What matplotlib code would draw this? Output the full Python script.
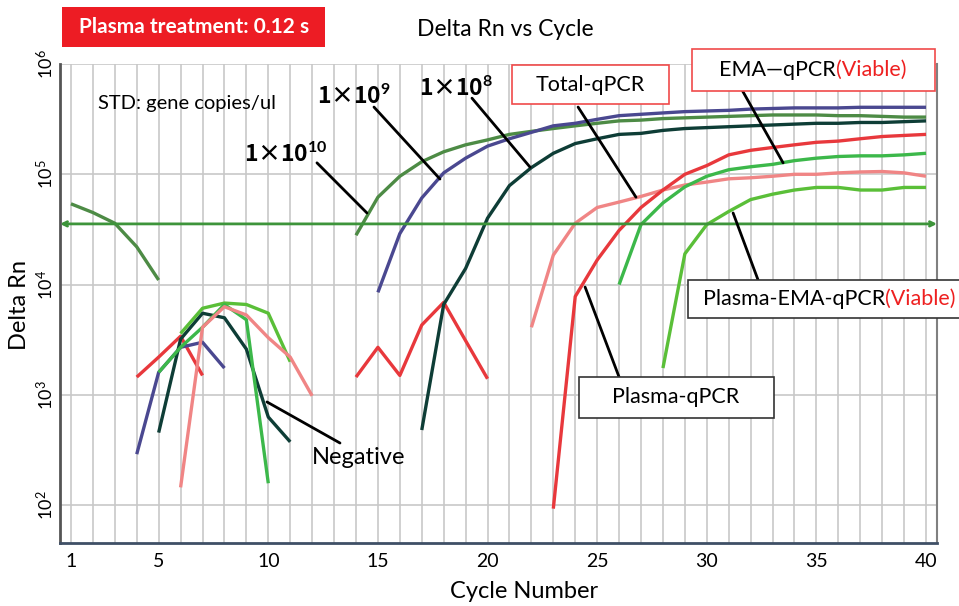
import numpy as np
import matplotlib
matplotlib.use('Agg')
import matplotlib.pyplot as plt
from matplotlib.patches import Rectangle
from matplotlib.ticker import FixedLocator, NullLocator

plt.rcParams['font.family'] = ['Lato', 'DejaVu Sans']
plt.rcParams['mathtext.fontset'] = 'custom'
plt.rcParams['mathtext.rm'] = 'Lato'
plt.rcParams['mathtext.bf'] = 'Lato:bold'
plt.rcParams['mathtext.it'] = 'Lato:italic'

# ---- amplification curves (cycle, Delta Rn) ----
cyc_1e10_early = [1, 2, 3, 4, 5]
rn_1e10_early = [5.4e4, 4.5e4, 3.6e4, 2.2e4, 1.1e4]

cyc_1e10 = list(range(14, 41))
rn_1e10 = [2.8e4, 6.2e4, 9.6e4, 1.3e5, 1.6e5, 1.85e5, 2.05e5, 2.3e5, 2.45e5,
           2.6e5, 2.75e5, 2.9e5, 3.05e5, 3.1e5, 3.2e5, 3.25e5, 3.3e5, 3.35e5,
           3.4e5, 3.45e5, 3.45e5, 3.45e5, 3.4e5, 3.4e5, 3.35e5, 3.3e5, 3.3e5]

cyc_1e9 = list(range(15, 41))
rn_1e9 = [8.5e3, 2.9e4, 6.1e4, 1.03e5, 1.4e5, 1.8e5, 2.1e5, 2.4e5, 2.75e5,
          2.9e5, 3.15e5, 3.4e5, 3.5e5, 3.6e5, 3.7e5, 3.75e5, 3.8e5, 3.9e5,
          3.95e5, 4.0e5, 4.0e5, 4.0e5, 4.05e5, 4.05e5, 4.05e5, 4.05e5]

cyc_1e8 = list(range(17, 41))
rn_1e8 = [480, 6.6e3, 1.4e4, 4.0e4, 7.9e4, 1.15e5, 1.55e5, 1.9e5, 2.1e5,
          2.3e5, 2.35e5, 2.5e5, 2.6e5, 2.65e5, 2.7e5, 2.75e5, 2.8e5, 2.85e5,
          2.9e5, 2.9e5, 2.95e5, 2.95e5, 3.0e5, 3.05e5]

cyc_total = list(range(22, 41))
rn_total = [4.1e3, 1.85e4, 3.6e4, 5.0e4, 5.6e4, 6.3e4, 7.2e4, 8.0e4, 8.5e4,
            9.1e4, 9.3e4, 9.6e4, 1.0e5, 1.0e5, 1.03e5, 1.05e5, 1.06e5, 1.03e5,
            9.6e4]

cyc_plasma = list(range(23, 41))
rn_plasma = [93, 7.8e3, 1.67e4, 3.1e4, 5.0e4, 7.2e4, 1.0e5, 1.2e5, 1.5e5,
             1.65e5, 1.75e5, 1.85e5, 1.95e5, 2.0e5, 2.1e5, 2.2e5, 2.25e5, 2.3e5]

cyc_ema = list(range(26, 41))
rn_ema = [1.0e4, 3.5e4, 5.5e4, 7.7e4, 9.6e4, 1.1e5, 1.17e5, 1.23e5, 1.33e5,
          1.4e5, 1.45e5, 1.47e5, 1.47e5, 1.5e5, 1.55e5]

cyc_pema = list(range(28, 41))
rn_pema = [1.75e3, 1.9e4, 3.5e4, 4.6e4, 5.9e4, 6.6e4, 7.2e4, 7.6e4, 7.6e4,
           7.2e4, 7.2e4, 7.6e4, 7.6e4]

# negative controls
cyc_neg_red_a = [4, 5, 6, 7]
rn_neg_red_a = [1.45e3, 2.2e3, 3.4e3, 1.5e3]
cyc_neg_purple = [4, 5, 6, 7, 8]
rn_neg_purple = [290, 1.6e3, 2.7e3, 3.0e3, 1.75e3]
cyc_neg_teal = [5, 6, 7, 8, 9, 10, 11]
rn_neg_teal = [455, 3.2e3, 5.5e3, 5.0e3, 2.6e3, 630, 375]
cyc_neg_lime = [6, 7, 8, 9, 10, 11]
rn_neg_lime = [3.6e3, 6.1e3, 6.8e3, 6.6e3, 5.5e3, 2.0e3]
cyc_neg_green = [5, 6, 7, 8, 9, 10]
rn_neg_green = [1.6e3, 2.7e3, 4.1e3, 6.6e3, 4.8e3, 158]
cyc_neg_pink = [6, 7, 8, 9, 10, 11, 12]
rn_neg_pink = [145, 4.1e3, 6.3e3, 5.3e3, 3.3e3, 2.2e3, 980]
cyc_neg_red_b = [14, 15, 16, 17, 18, 19, 20]
rn_neg_red_b = [1.45e3, 2.7e3, 1.5e3, 4.3e3, 6.9e3, 3.1e3, 1.4e3]

threshold = 3.55e4
x_ticks = [1, 5, 10, 15, 20, 25, 30, 35, 40]
y_ticks = [1e2, 1e3, 1e4, 1e5, 1e6]

c10 = '#4d8b45'
c9 = '#4a4890'
c8 = '#0e3d36'
c_total = '#f08585'
c_plasma = '#e8383c'
c_ema = '#3cb84a'
c_pema = '#5abf38'
c_thr = '#3d943a'

W, H = 959, 606
fig = plt.figure(figsize=(W / 100, H / 100), dpi=100)
ax = fig.add_axes([60 / W, 1 - 543 / H, 877 / W, 479 / H])


def fp(x, y):
    return x / W, 1 - y / H


lw = 2.4
kw = dict(lw=lw, solid_joinstyle='round', solid_capstyle='butt')
neg = [(cyc_neg_red_a, rn_neg_red_a, c_plasma),
       (cyc_neg_purple, rn_neg_purple, c9),
       (cyc_neg_teal, rn_neg_teal, c8),
       (cyc_neg_lime, rn_neg_lime, c_pema),
       (cyc_neg_green, rn_neg_green, c_ema),
       (cyc_neg_pink, rn_neg_pink, c_total),
       (cyc_neg_red_b, rn_neg_red_b, c_plasma)]
for cx, cy, col in neg:
    ax.plot(cx, cy, color=col, **kw)

ax.annotate('', xy=(40.5, threshold), xytext=(0.5, threshold),
            arrowprops=dict(arrowstyle='<->', color=c_thr, lw=2,
                            shrinkA=0, shrinkB=0, mutation_scale=8),
            annotation_clip=False)

ax.plot(cyc_1e10_early, rn_1e10_early, color=c10, **kw)
ax.plot(cyc_1e10, rn_1e10, color=c10, **kw)
ax.plot(cyc_1e9, rn_1e9, color=c9, **kw)
ax.plot(cyc_1e8, rn_1e8, color=c8, **kw)
ax.plot(cyc_total, rn_total, color=c_total, **kw)
ax.plot(cyc_plasma, rn_plasma, color=c_plasma, **kw)
ax.plot(cyc_ema, rn_ema, color=c_ema, **kw)
ax.plot(cyc_pema, rn_pema, color=c_pema, **kw)

ax.set_yscale('log')
ax.set_xlim(0.5, 40.5)
ax.set_ylim(45.4, 1e6)
ax.set_xticks(x_ticks)
ax.xaxis.set_minor_locator(FixedLocator(range(1, 41)))
ax.set_yticks(y_ticks)
ax.yaxis.set_minor_locator(NullLocator())
ax.set_axisbelow(True)
ax.grid(True, which='both', axis='x', color='#c8c8c8', lw=1.2)
ax.grid(True, which='major', axis='y', color='#c8c8c8', lw=1.2)
ax.tick_params(which='both', length=0)
ax.tick_params(axis='x', labelsize=14, pad=7)
ax.tick_params(axis='y', labelsize=13, pad=3, labelrotation=90)
for lab in ax.get_yticklabels():
    lab.set_va('center')
ax.spines['top'].set_visible(False)
ax.spines['bottom'].set_color('#3f4f66')
ax.spines['bottom'].set_linewidth(2)
ax.spines['left'].set_color('#555555')
ax.spines['left'].set_linewidth(2)
ax.spines['right'].set_color('#808080')
ax.spines['right'].set_linewidth(1.5)

# pointer lines
pointers = [((12.22, 1.27e5), (14.50, 4.46e4)),
            ((14.82, 4.07e5), (17.83, 9.06e4)),
            ((19.29, 4.9e5), (21.94, 1.16e5)),
            ((24.13, 4.07e5), (26.77, 6.2e4)),
            ((31.61, 5.8e5), (33.48, 1.27e5)),
            ((31.2, 4.46e4), (32.34, 1.1e4)),
            ((24.45, 9.5e3), (26.0, 1.45e3)),
            ((9.94, 863), (13.27, 366))]
for p0, p1 in pointers:
    ax.annotate('', xy=p1, xytext=p0,
                arrowprops=dict(arrowstyle='-', color='black', lw=2,
                                shrinkA=0, shrinkB=0),
                annotation_clip=False)

# header
fig.patches.append(Rectangle(fp(62, 47), 263 / W, 40 / H, transform=fig.transFigure,
                             fc='#ed1c24', ec='none'))
fig.text(*fp(194, 27), 'Plasma treatment: 0.12 s', color='white', fontsize=15,
         fontweight='bold', ha='center', va='center')
fig.text(*fp(505, 30), 'Delta Rn vs Cycle', fontsize=16.5, ha='center', va='center')
fig.text(*fp(524, 592), 'Cycle Number', fontsize=17, ha='center', va='center')
fig.text(*fp(20, 305), 'Delta Rn', fontsize=17, ha='center', va='center', rotation=90)

# labels
cjk = ['Noto Sans CJK SC', 'DejaVu Sans']
fig.text(*fp(98, 103), 'STD: gene copies/ul', fontsize=14.5, va='center')
fig.text(*fp(244, 155), r'1×10$^{\mathbf{10}}$', fontsize=16.5, fontweight='bold',
         family=cjk, va='center')
fig.text(*fp(317, 97), r'1×10$^{\mathbf{9}}$', fontsize=16.5, fontweight='bold',
         family=cjk, va='center')
fig.text(*fp(419, 89), r'1×10$^{\mathbf{8}}$', fontsize=16.5, fontweight='bold',
         family=cjk, va='center')
fig.text(*fp(312, 458), 'Negative', fontsize=17, va='center')


def box(x0, y0, x1, y1, ec):
    fig.patches.append(Rectangle(fp(x0, y1), (x1 - x0) / W, (y1 - y0) / H,
                                 transform=fig.transFigure, fc='white', ec=ec, lw=1.2))


box(512, 65, 669, 104, '#f04a4a')
fig.text(*fp(590, 85), 'Total-qPCR', fontsize=15.5, ha='center', va='center')

box(692, 49, 935, 91, '#f04a4a')
fig.text(*fp(836, 70), 'EMA—qPCR', fontsize=15.5, ha='right', va='center')
fig.text(*fp(836, 70), '(Viable)', fontsize=15.5, ha='left', va='center', color='#ee2020')

box(688, 280, 965, 318, '#333333')
fig.text(*fp(885, 299), 'Plasma-EMA-qPCR', fontsize=15.5, ha='right', va='center')
fig.text(*fp(885, 299), '(Viable)', fontsize=15.5, ha='left', va='center', color='#ee2020')

box(579, 377, 774, 418, '#333333')
fig.text(*fp(676, 397), 'Plasma-qPCR', fontsize=15.5, ha='center', va='center')

fig.savefig('out.png', dpi=100)
